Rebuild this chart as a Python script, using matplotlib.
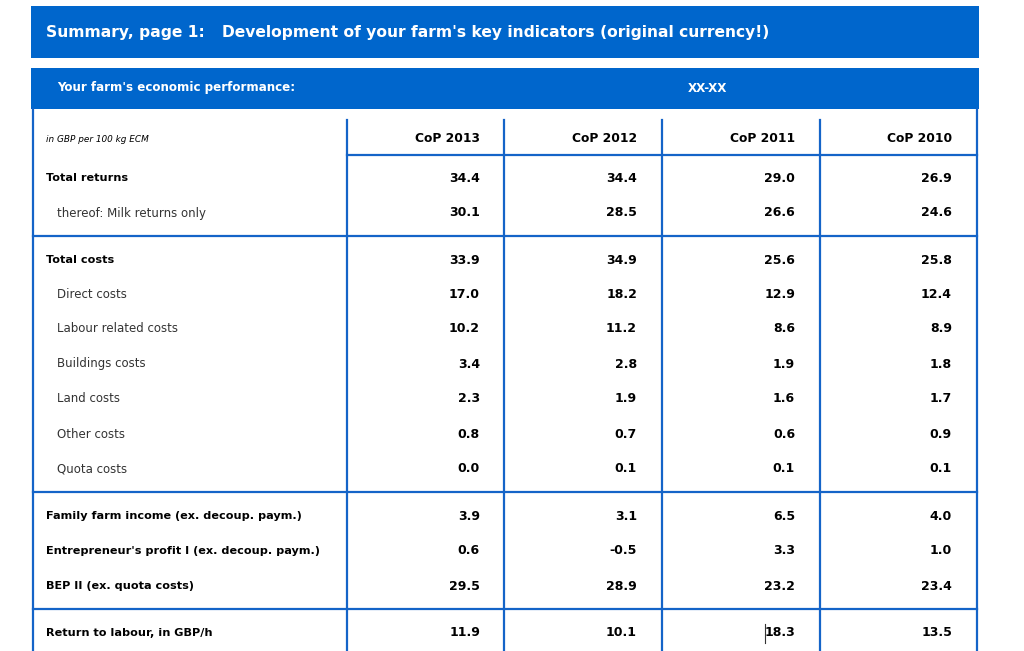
import matplotlib.pyplot as plt

plt.rcParams['font.family'] = ['DejaVu Sans']

blue = "#0066cc"
line_blue = "#1464c8"

columns = ["CoP 2013", "CoP 2012", "CoP 2011", "CoP 2010"]
row_labels = ["Total returns", "thereof: Milk returns only",
              "Total costs", "Direct costs", "Labour related costs", "Buildings costs",
              "Land costs", "Other costs", "Quota costs",
              "Family farm income (ex. decoup. paym.)",
              "Entrepreneur's profit I (ex. decoup. paym.)",
              "BEP II (ex. quota costs)",
              "Return to labour, in GBP/h"]
row_bold = [True, False, True, False, False, False, False, False, False, True, True, True, True]
cop_2013 = [34.4, 30.1, 33.9, 17.0, 10.2, 3.4, 2.3, 0.8, 0.0, 3.9, 0.6, 29.5, 11.9]
cop_2012 = [34.4, 28.5, 34.9, 18.2, 11.2, 2.8, 1.9, 0.7, 0.1, 3.1, -0.5, 28.9, 10.1]
cop_2011 = [29.0, 26.6, 25.6, 12.9, 8.6, 1.9, 1.6, 0.6, 0.1, 6.5, 3.3, 23.2, 18.3]
cop_2010 = [26.9, 24.6, 25.8, 12.4, 8.9, 1.8, 1.7, 0.9, 0.1, 4.0, 1.0, 23.4, 13.5]
values = [cop_2013, cop_2012, cop_2011, cop_2010]

# layout in pixels
row_y = [178, 213, 260, 294, 329, 364, 399, 434, 469, 516, 551, 586, 633]
col_x = [347, 504, 662, 820]
col_right = [480, 637, 795, 952]
left, right = 33, 977
sep_y = [236, 492, 609]

fig = plt.figure(figsize=(10.24, 6.51), dpi=100)
ax = fig.add_axes([0, 0, 1, 1])
ax.set_xlim(0, 1024)
ax.set_ylim(651, 0)
ax.axis("off")

# banners
ax.add_patch(plt.Rectangle((31, 6), 948, 52, color=blue, lw=0))
ax.add_patch(plt.Rectangle((31, 68), 948, 41, color=blue, lw=0))
ax.text(46, 32, "Summary, page 1:", color="white", fontsize=11.2, weight="bold", va="center")
ax.text(222, 32, "Development of your farm's key indicators (original currency!)",
        color="white", fontsize=11.2, weight="bold", va="center")
ax.text(57, 88, "Your farm's economic performance:", color="white", fontsize=8.6,
        weight="bold", va="center")
ax.text(707, 88, "XX-XX", color="white", fontsize=8.6, weight="bold", va="center", ha="center")

# grid lines
lw = 1.6
ax.plot([left, left], [109, 651], color=line_blue, lw=lw)
ax.plot([right, right], [109, 651], color=line_blue, lw=lw)
for x in col_x:
    ax.plot([x, x], [120, 651], color=line_blue, lw=lw)
ax.plot([col_x[0], right], [155, 155], color=line_blue, lw=lw)
for y in sep_y:
    ax.plot([left, right], [y, y], color=line_blue, lw=lw)

# header
ax.text(46, 139, "in GBP per 100 kg ECM", fontsize=6.4, style="italic", va="center")
for name, xr in zip(columns, col_right):
    ax.text(xr, 139, name, fontsize=8.8, weight="bold", ha="right", va="center")

# rows
for i, label in enumerate(row_labels):
    if row_bold[i]:
        ax.text(46, row_y[i], label, fontsize=8.1, weight="bold", va="center")
    else:
        ax.text(57, row_y[i], label, fontsize=8.5, va="center", color="#333333")
    for j, xr in enumerate(col_right):
        ax.text(xr, row_y[i], f"{values[j][i]:.1f}", fontsize=9,
                weight="bold", ha="right", va="center")

# text cursor mark next to 18.3
ax.plot([765, 765], [624, 643], color="#333333", lw=0.8)

fig.savefig("out.png", dpi=100)
